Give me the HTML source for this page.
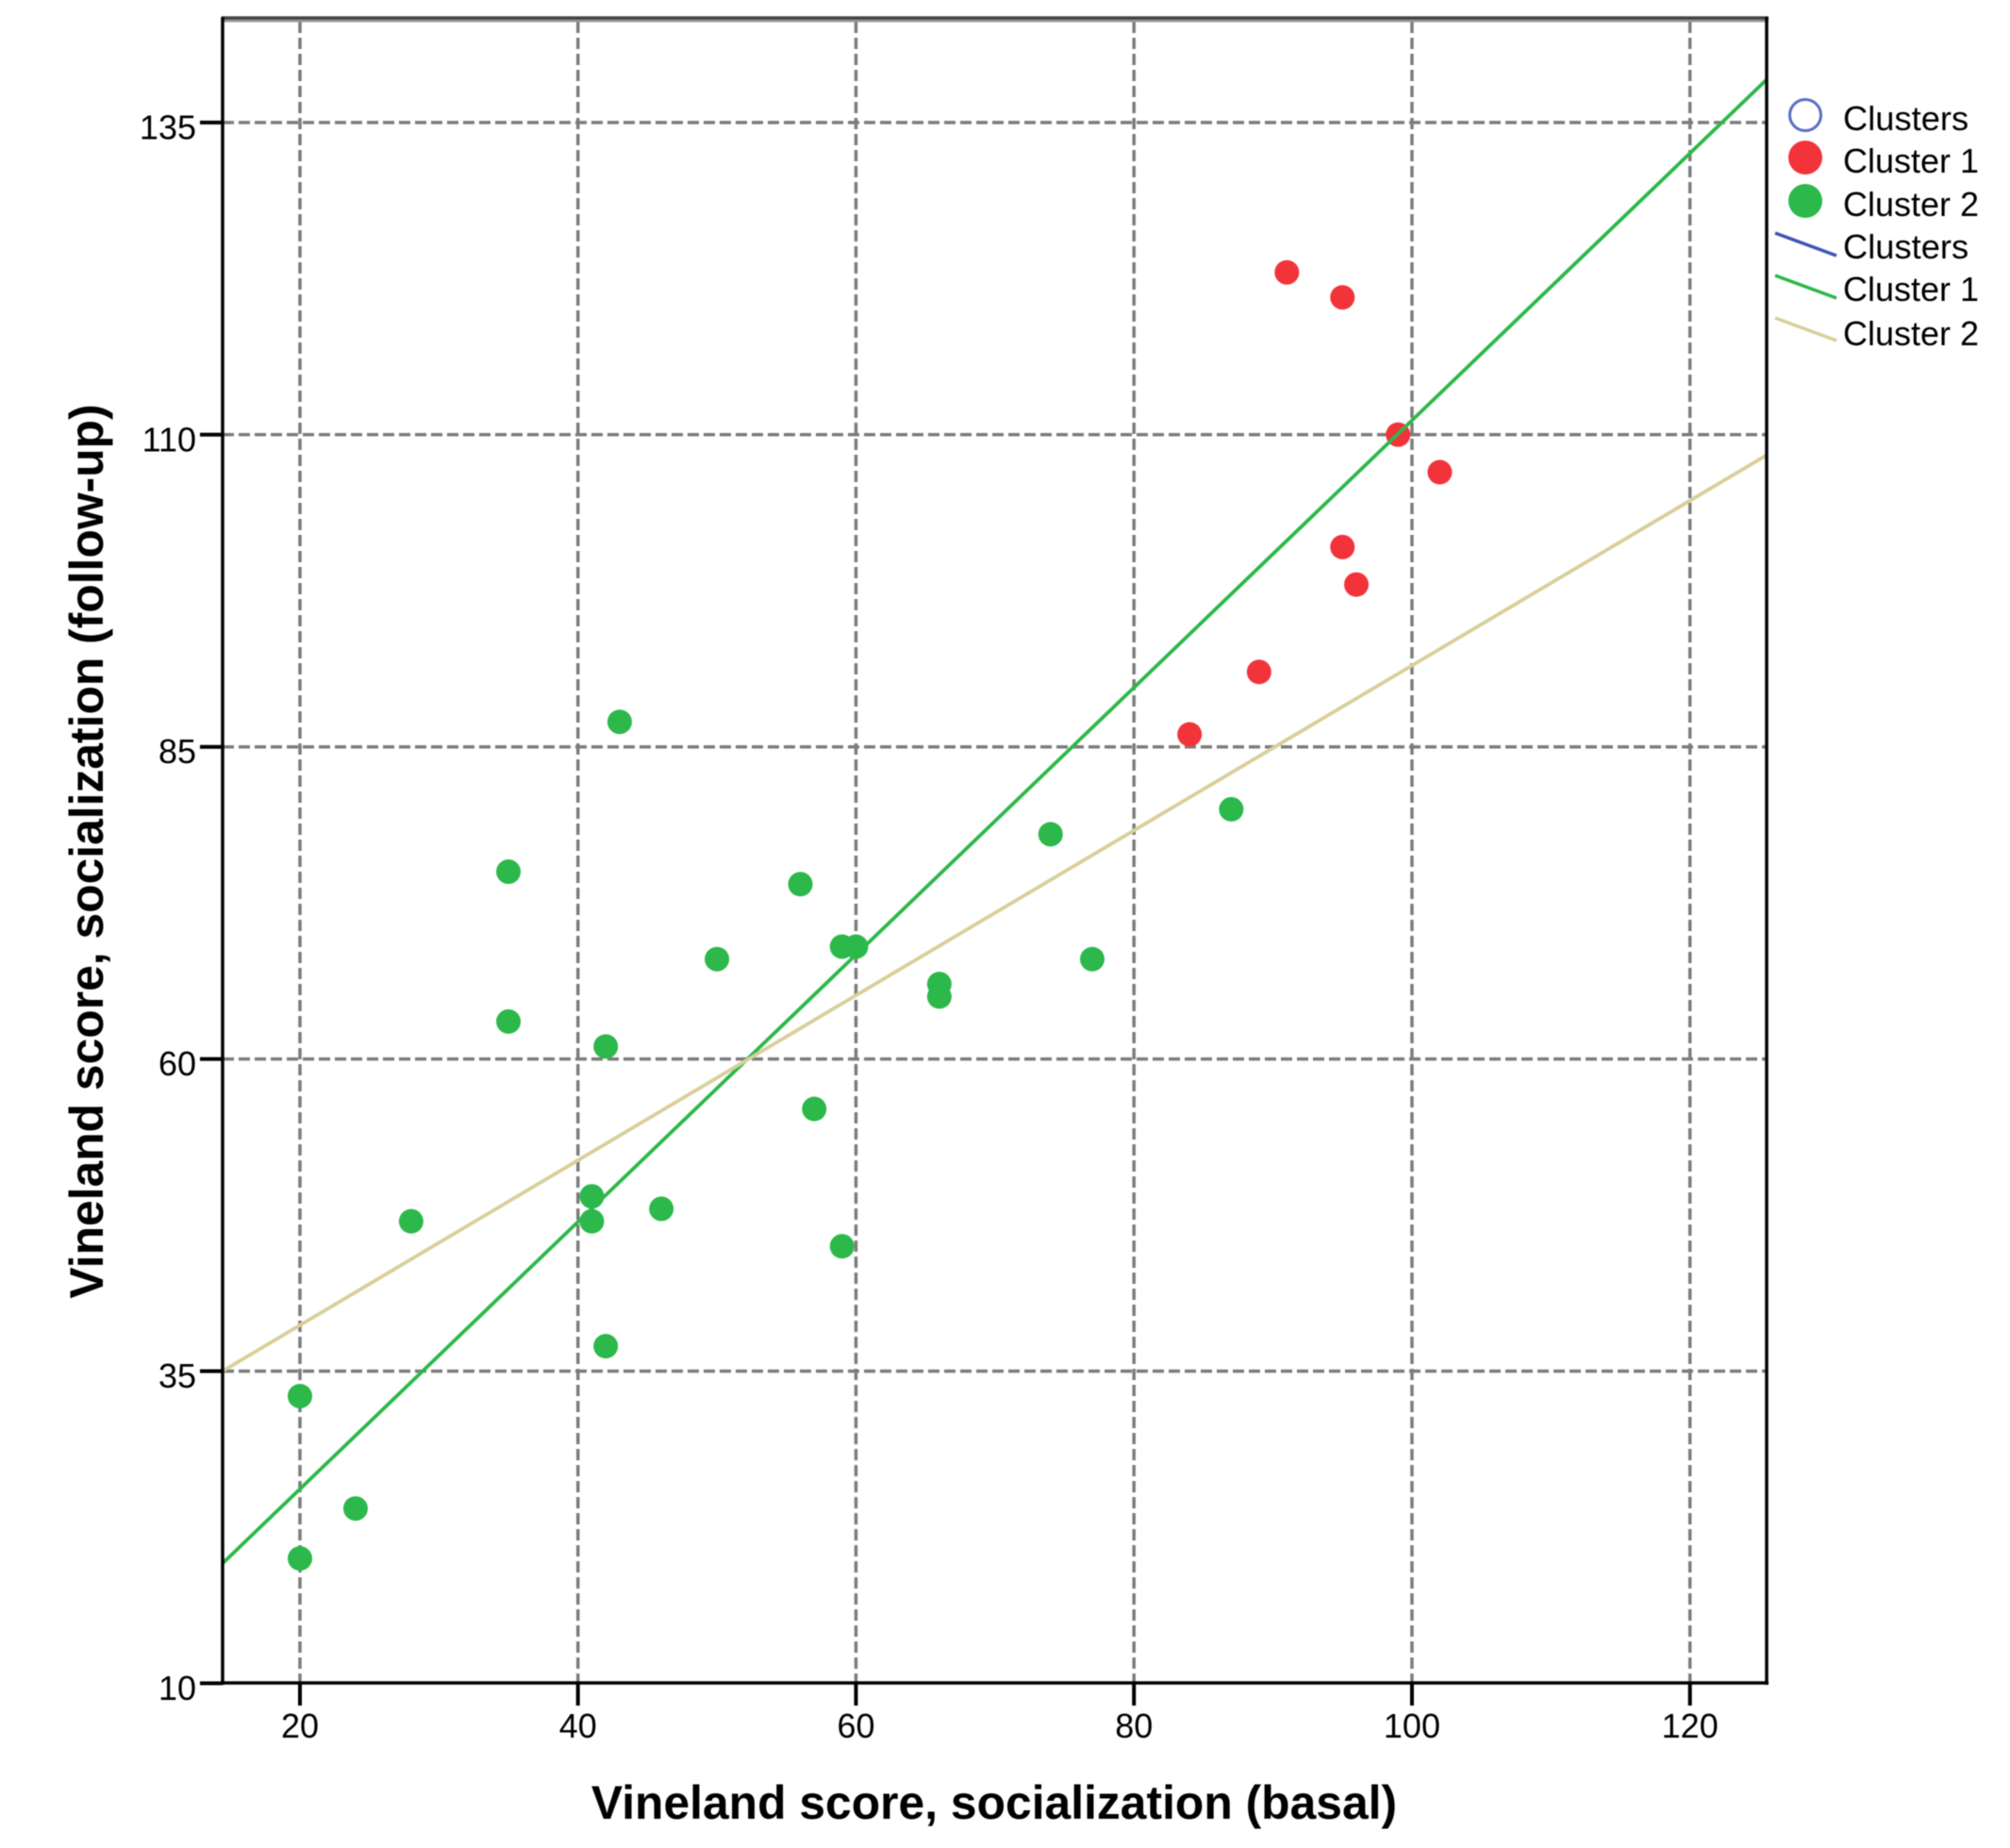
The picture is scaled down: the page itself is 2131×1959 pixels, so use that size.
<!DOCTYPE html>
<html>
<head>
<meta charset="utf-8">
<title>Vineland socialization scatter plot</title>
<style>
html,body{margin:0;padding:0;background:#fff;}
svg{display:block;filter:blur(0.6px);}
text{font-family:"Liberation Sans",Arial,sans-serif;fill:#000;}
</style>
</head>
<body>
<svg id="chart" xmlns="http://www.w3.org/2000/svg" width="2131" height="1959" viewBox="0 0 2131 1959">
  <rect x="0" y="0" width="2131" height="1959" fill="#fff"/>
  <g id="grid"></g>
  <g id="points"></g>
  <g id="fits"></g>
  <g id="frame">
    <line x1="236" y1="22" x2="1875" y2="22" stroke="#999999" stroke-width="3"/>
    <line x1="235" y1="19" x2="1875" y2="19" stroke="#444444" stroke-width="3.5"/>
    <line x1="236" y1="18" x2="236" y2="1786" stroke="#000" stroke-width="3.5"/>
    <line x1="1873" y1="18" x2="1873" y2="1786" stroke="#000" stroke-width="3.5"/>
    <line x1="234" y1="1784" x2="1875" y2="1784" stroke="#000" stroke-width="3.5"/>
  </g>
  <g id="ticks"></g>
  <text x="1054" y="1928" font-size="49.8" font-weight="bold" text-anchor="middle">Vineland score, socialization (basal)</text>
  <text transform="translate(109,906) rotate(-90)" font-size="49.8" font-weight="bold" text-anchor="middle" dx="3.5">Vineland score, socialization (follow-up)</text>
  <g>
    <circle cx="1914" cy="122" r="16.5" fill="#fff" stroke="#5a6fc5" stroke-width="3"/>
    <text x="1954" y="138" font-size="36.3">Clusters</text>
    <circle cx="1914" cy="167" r="18" fill="#f2333a"/>
    <text x="1954" y="183" font-size="36">Cluster 1</text>
    <circle cx="1914" cy="213" r="18" fill="#2cb84a"/>
    <text x="1954" y="229" font-size="36">Cluster 2</text>
    <line x1="1892" y1="249" x2="1957" y2="273" stroke="#3f55b5" stroke-width="3.5" transform="translate(-10,-2)"/>
    <text x="1954" y="274" font-size="36.3">Clusters</text>
    <line x1="1882" y1="292" x2="1947" y2="316" stroke="#2cb84a" stroke-width="3.5"/>
    <text x="1954" y="319" font-size="36">Cluster 1</text>
    <line x1="1882" y1="337" x2="1947" y2="361" stroke="#d9cf9a" stroke-width="3.5"/>
    <text x="1954" y="366" font-size="36">Cluster 2</text>
  </g>
</svg>
<script>
const xTickValues = [20, 40, 60, 80, 100, 120];
const yTickValues = [10, 35, 60, 85, 110, 135];
const cluster1X = [91, 95, 99, 102, 95, 96, 89, 84];
const cluster1Y = [123, 121, 110, 107, 101, 98, 91, 86];
const cluster2X = [43, 35, 56, 74, 87, 50, 59, 60, 77, 66, 66, 35, 42, 57, 41, 46, 41, 28, 59, 42, 20, 24, 20];
const cluster2Y = [87, 75, 74, 78, 80, 68, 69, 69, 68, 66, 65, 63, 61, 56, 49, 48, 47, 47, 45, 37, 33, 24, 20];
const fitXDomain = [14.43, 125.57];
const fitCluster1Y = [19.6, 138.5];
const fitCluster2Y = [35, 108.4];

const SVGNS = 'http://www.w3.org/2000/svg';
const plotLeft = 236, plotRight = 1873, plotTop = 20, plotBottom = 1784;
function xScale(v) { return 318 + (v - 20) * 14.737; }
function yScale(v) { return 1784.4 - (v - 10) * 13.236; }
function make(tag, parentId) {
  const el = document.createElementNS(SVGNS, tag);
  document.getElementById(parentId).appendChild(el);
  return el;
}
function setLine(el, x1, y1, x2, y2, stroke, width) {
  el.setAttribute('x1', x1);
  el.setAttribute('y1', y1);
  el.setAttribute('x2', x2);
  el.setAttribute('y2', y2);
  el.setAttribute('stroke', stroke);
  el.setAttribute('stroke-width', width);
}

xTickValues.forEach(function (v) {
  const px = xScale(v);
  const g = make('line', 'grid');
  
  
  setLine(g, px, plotTop + 3, px, plotBottom, '#7c7c7c', 3.5);
  g.setAttribute('stroke-dasharray', '12 5');
  const t = make('line', 'ticks');
  
  
  setLine(t, px, plotBottom, px, plotBottom + 24, '#000', 4);
  const lab = make('text', 'ticks');
  
  
  lab.setAttribute('x', px);
  lab.setAttribute('y', 1842);
  lab.setAttribute('font-size', '36');
  lab.setAttribute('text-anchor', 'middle');
  lab.textContent = String(v);
});

yTickValues.forEach(function (v) {
  const py = yScale(v);
  if (v !== yTickValues[0]) {
    const g = make('line', 'grid');
    
    
    setLine(g, plotLeft, py, plotRight, py, '#7c7c7c', 3.5);
    g.setAttribute('stroke-dasharray', '12 5');
  }
  const t = make('line', 'ticks');
  
  
  setLine(t, plotLeft - 24, py, plotLeft, py, '#000', 4);
  const lab = make('text', 'ticks');
  
  
  lab.setAttribute('x', 208);
  lab.setAttribute('y', py + 17.5);
  lab.setAttribute('font-size', '36');
  lab.setAttribute('text-anchor', 'end');
  lab.textContent = String(v);
});

cluster1X.forEach(function (v, i) {
  const c = make('circle', 'points');
  
  
  c.setAttribute('cx', xScale(v));
  c.setAttribute('cy', yScale(cluster1Y[i]));
  c.setAttribute('r', 13);
  c.setAttribute('fill', '#f2333a');
});

cluster2X.forEach(function (v, i) {
  const c = make('circle', 'points');
  
  
  c.setAttribute('cx', xScale(v));
  c.setAttribute('cy', yScale(cluster2Y[i]));
  c.setAttribute('r', 13);
  c.setAttribute('fill', '#2cb84a');
});

const fit1 = make('line', 'fits');


setLine(fit1, xScale(fitXDomain[0]), yScale(fitCluster1Y[0]), xScale(fitXDomain[1]), yScale(fitCluster1Y[1]), '#2cb84a', 3.8);

const fit2 = make('line', 'fits');


setLine(fit2, xScale(fitXDomain[0]), yScale(fitCluster2Y[0]), xScale(fitXDomain[1]), yScale(fitCluster2Y[1]), '#d9cf9a', 3.8);
</script>
</body>
</html>
